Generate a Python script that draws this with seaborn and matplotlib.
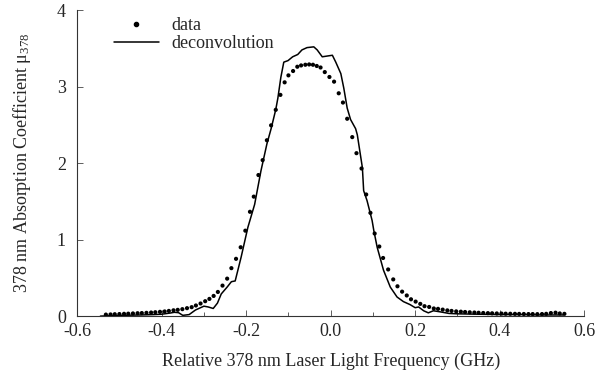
import matplotlib
matplotlib.use("Agg")
import matplotlib.pyplot as plt
from matplotlib.ticker import MultipleLocator, FormatStrFormatter
from matplotlib.lines import Line2D
import seaborn as sns
import pandas as pd

# measured absorption data (dots)
data_x = [-0.532, -0.521, -0.511, -0.500, -0.489, -0.479, -0.468, -0.457, -0.447, -0.436,
          -0.425, -0.415, -0.404, -0.393, -0.383, -0.372, -0.362, -0.351, -0.340, -0.329,
          -0.319, -0.308, -0.297, -0.287, -0.277, -0.267, -0.256, -0.245, -0.235, -0.224,
          -0.213, -0.202, -0.191, -0.182, -0.171, -0.161, -0.151, -0.141, -0.130, -0.119,
          -0.109, -0.100, -0.089, -0.079, -0.070, -0.060, -0.051, -0.042, -0.033, -0.024,
          -0.014, -0.003, 0.008, 0.019, 0.029, 0.039, 0.051, 0.061, 0.073, 0.084,
          0.094, 0.104, 0.115, 0.124, 0.136, 0.148, 0.158, 0.169, 0.180, 0.190,
          0.201, 0.212, 0.222, 0.233, 0.244, 0.254, 0.265, 0.276, 0.286, 0.297,
          0.308, 0.318, 0.329, 0.340, 0.350, 0.361, 0.372, 0.382, 0.393, 0.404,
          0.414, 0.425, 0.436, 0.446, 0.457, 0.468, 0.478, 0.489, 0.500, 0.510,
          0.521, 0.532, 0.542, 0.553]
data_y = [0.020, 0.022, 0.025, 0.027, 0.030, 0.032, 0.035, 0.038, 0.040, 0.043,
          0.047, 0.051, 0.056, 0.061, 0.068, 0.076, 0.082, 0.091, 0.104, 0.117,
          0.139, 0.165, 0.195, 0.225, 0.264, 0.316, 0.399, 0.490, 0.627, 0.749,
          0.900, 1.117, 1.364, 1.562, 1.844, 2.039, 2.299, 2.494, 2.697, 2.892,
          3.056, 3.147, 3.204, 3.260, 3.277, 3.286, 3.290, 3.286, 3.270, 3.250,
          3.190, 3.126, 3.065, 2.913, 2.792, 2.580, 2.340, 2.130, 1.930, 1.590,
          1.350, 1.080, 0.910, 0.760, 0.610, 0.480, 0.390, 0.320, 0.270, 0.220,
          0.190, 0.160, 0.130, 0.120, 0.100, 0.095, 0.085, 0.075, 0.068, 0.062,
          0.058, 0.054, 0.050, 0.047, 0.044, 0.041, 0.039, 0.037, 0.035, 0.034,
          0.032, 0.031, 0.030, 0.029, 0.028, 0.027, 0.027, 0.026, 0.027, 0.030,
          0.040, 0.045, 0.035, 0.030]

# deconvolved profile (line)
dec_x = [-0.545, -0.50, -0.45, -0.42, -0.40, -0.38, -0.37, -0.36, -0.35, -0.335,
         -0.32, -0.30, -0.29, -0.278, -0.268, -0.259, -0.245, -0.235, -0.226, -0.212,
         -0.196, -0.18, -0.165, -0.151, -0.141, -0.130, -0.125, -0.118, -0.111, -0.101,
         -0.090, -0.078, -0.068, -0.056, -0.040, -0.032, -0.020, -0.008, 0.004, 0.012,
         0.024, 0.031, 0.039, 0.047, 0.059, 0.063, 0.075, 0.078, 0.086, 0.098,
         0.102, 0.110, 0.125, 0.141, 0.157, 0.172, 0.188, 0.200, 0.208, 0.220,
         0.231, 0.243, 0.259, 0.28, 0.30, 0.35, 0.40, 0.45, 0.50, 0.55]
dec_y = [0.0, 0.01, 0.015, 0.02, 0.025, 0.04, 0.05, 0.045, 0.01, 0.02,
         0.08, 0.13, 0.12, 0.10, 0.17, 0.29, 0.38, 0.45, 0.46, 0.77,
         1.16, 1.46, 1.90, 2.25, 2.45, 2.70, 2.85, 3.12, 3.32, 3.34,
         3.39, 3.42, 3.48, 3.51, 3.52, 3.48, 3.39, 3.40, 3.41, 3.32,
         3.17, 2.98, 2.72, 2.57, 2.45, 2.37, 1.94, 1.64, 1.51, 1.25,
         1.12, 0.90, 0.60, 0.38, 0.25, 0.19, 0.15, 0.11, 0.12, 0.07,
         0.043, 0.07, 0.056, 0.035, 0.03, 0.025, 0.02, 0.02, 0.015, 0.015]

x_ticks = [-0.6, -0.4, -0.2, 0.0, 0.2, 0.4, 0.6]
y_ticks = [0, 1, 2, 3, 4]

sns.set_style("ticks")
plt.rcParams["font.family"] = ["Liberation Serif", "DejaVu Serif"]
plt.rcParams["mathtext.fontset"] = "custom"
plt.rcParams["mathtext.rm"] = "Liberation Serif"
plt.rcParams["mathtext.it"] = "Liberation Serif:italic"

df_data = pd.DataFrame({"x": data_x, "y": data_y})
df_dec = pd.DataFrame({"x": dec_x, "y": dec_y})

fig = plt.figure(figsize=(5.98, 3.75), dpi=100)
ax = fig.add_axes([0.129, 0.157, 0.848, 0.816])

sns.lineplot(data=df_dec, x="x", y="y", ax=ax, color="black", linewidth=1.1,
             estimator=None, sort=False)
sns.scatterplot(data=df_data, x="x", y="y", ax=ax, color="black", s=9,
                edgecolor="none", linewidth=0)

ax.set_xlim(-0.6, 0.6)
ax.set_ylim(0, 4)
ax.set_xticks(x_ticks)
ax.set_yticks(y_ticks)
ax.xaxis.set_minor_locator(MultipleLocator(0.1))
ax.xaxis.set_major_formatter(FormatStrFormatter("%.1f"))
ax.tick_params(axis="both", which="both", direction="in", labelsize=13,
               width=0.6, color="#444444")
ax.tick_params(axis="x", which="major", length=4, pad=5)
ax.tick_params(axis="x", which="minor", length=3)
ax.tick_params(axis="y", which="major", length=4, pad=8)

ax.set_xlabel("Relative 378 nm Laser Light Frequency (GHz)", fontsize=13, labelpad=9)
ax.set_ylabel("378 nm Absorption Coefficient μ$_{378}$", fontsize=13, labelpad=17)

sns.despine(ax=ax)
for s in ("left", "bottom"):
    ax.spines[s].set_linewidth(0.8)
    ax.spines[s].set_color("#333333")

handles = [
    Line2D([], [], marker="o", linestyle="none", color="black", markersize=3),
    Line2D([], [], color="black", linewidth=1.1),
]
ax.legend(handles, ["data", "deconvolution"], loc="upper left",
          bbox_to_anchor=(0.04, 1.03), frameon=False, fontsize=13,
          handlelength=2.5, handletextpad=0.7, labelspacing=0.05)

fig.savefig("out.png", dpi=100)
